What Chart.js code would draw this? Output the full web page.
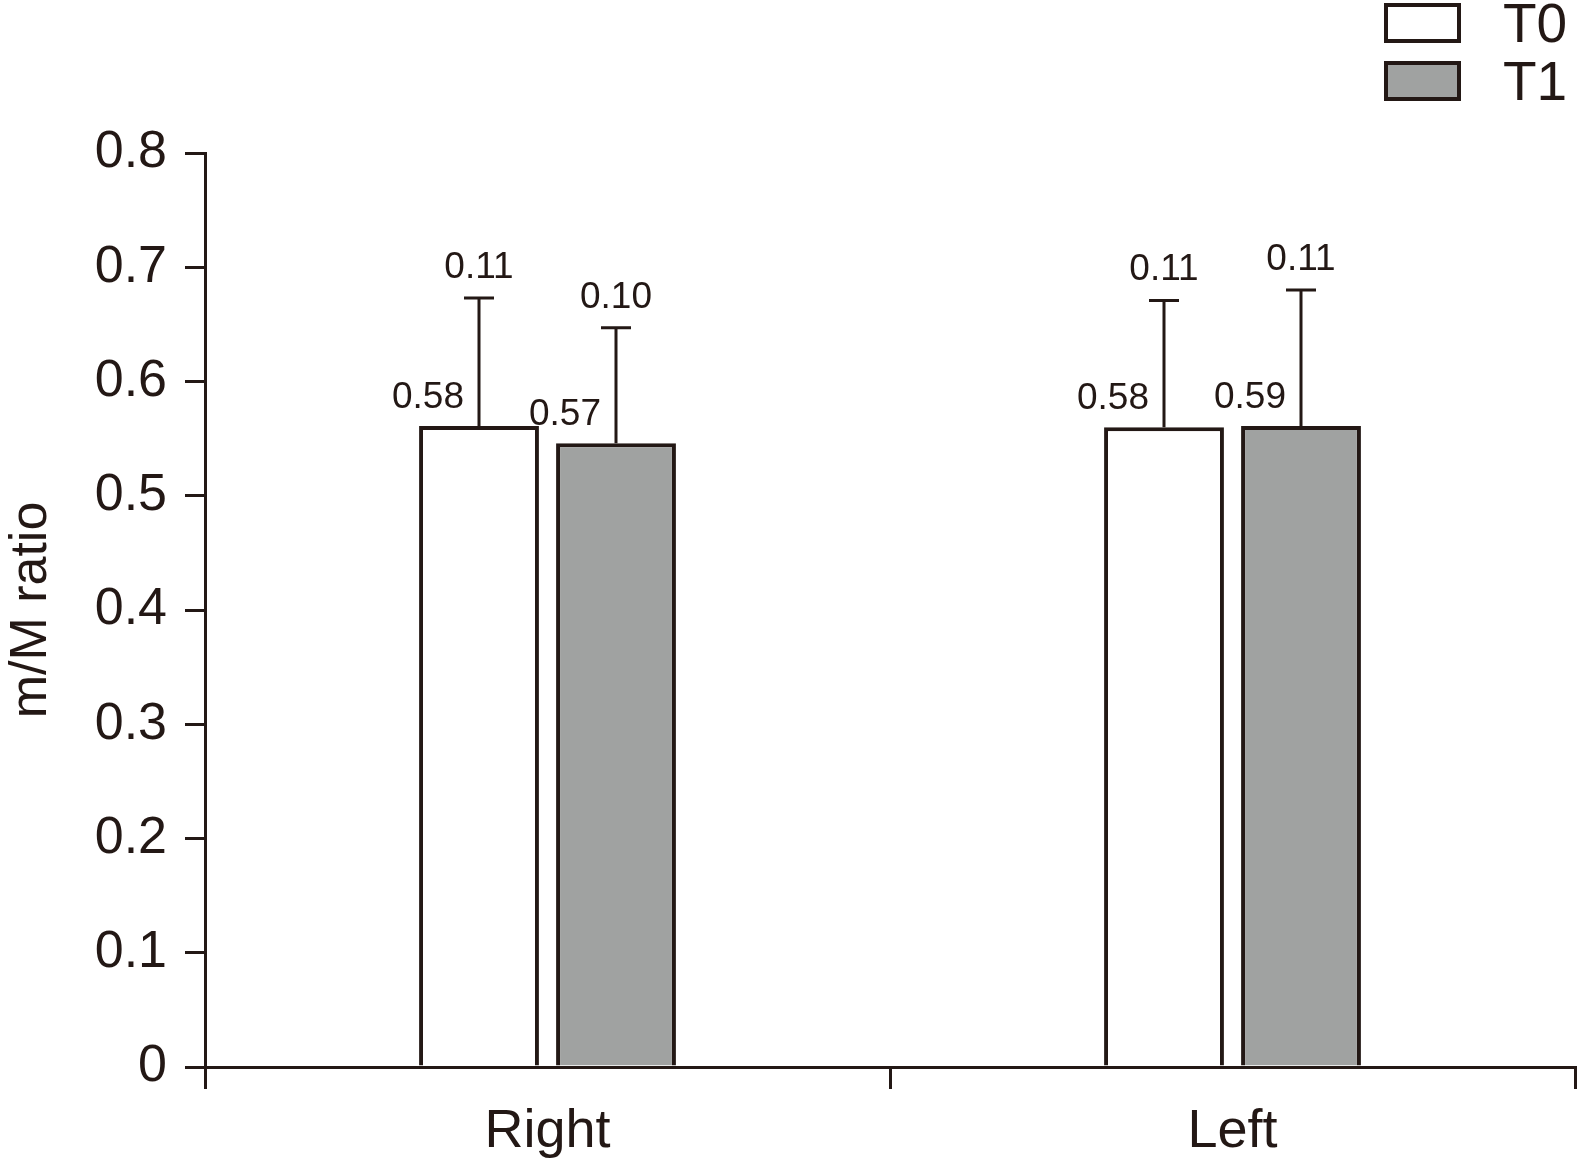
<!DOCTYPE html>
<html>
<head>
<meta charset="utf-8">
<script src="https://cdn.jsdelivr.net/npm/chart.js@4.4.0/dist/chart.umd.min.js"></script>
<style>
  html, body { margin: 0; padding: 0; background: #fff; }
  #wrap { position: relative; width: 1577px; height: 1160px; }
  #legend { position: absolute; left: 1384px; top: 3px; font-family: "Liberation Sans", Arial, sans-serif; color: #231815; }
  .item { display: flex; align-items: center; height: 40px; margin-bottom: 18px; }
  .box { width: 69px; height: 32px; border: 4px solid #231815; margin-right: 42px; }
  .txt { font-size: 55px; line-height: 40px; }
</style>
</head>
<body>
<div id="wrap">
  <canvas id="chart" width="1577" height="1160"></canvas>
  <div id="legend"></div>
</div>
<script>
// ========================
// Data
// ========================
const categories = ['Right', 'Left'];
const seriesNames = ['T0', 'T1'];

// bar heights as drawn
const meanT0 = [0.561, 0.560];
const meanT1 = [0.546, 0.561];
// upward error (SD) as drawn
const errT0 = [0.112, 0.111];
const errT1 = [0.101, 0.119];

// printed annotations
const meanLabelsT0 = ['0.58', '0.58'];
const meanLabelsT1 = ['0.57', '0.59'];
const sdLabelsT0 = ['0.11', '0.11'];
const sdLabelsT1 = ['0.10', '0.11'];

const yTickLabels = ['0', '0.1', '0.2', '0.3', '0.4', '0.5', '0.6', '0.7', '0.8'];

// ========================
// Style
// ========================
const INK = '#231815';
const FILLS = ['#ffffff', '#a0a2a1'];
const FONT = '"Liberation Sans", Arial, sans-serif';

// Legend (HTML)
const legendEl = document.getElementById('legend');
seriesNames.forEach((name, i) => {
  const item = document.createElement('div');
  item.className = 'item';
  item.innerHTML = `<div class="box" style="background:${FILLS[i]}"></div><div class="txt">${name}</div>`;
  legendEl.appendChild(item);
});

// Error bars + value labels
const annotate = {
  id: 'annotate',
  afterDatasetsDraw(chart) {
    const { ctx, scales: { y } } = chart;
    const errs = [errT0, errT1];
    const means = [meanT0, meanT1];
    const meanLabels = [meanLabelsT0, meanLabelsT1];
    const sdLabels = [sdLabelsT0, sdLabelsT1];
    ctx.save();
    ctx.strokeStyle = INK;
    ctx.fillStyle = INK;
    ctx.lineWidth = 3;
    ctx.font = `37px ${FONT}`;
    chart.data.datasets.forEach((ds, di) => {
      const meta = chart.getDatasetMeta(di);
      meta.data.forEach((bar, i) => {
        const yTop = y.getPixelForValue(means[di][i] + errs[di][i]);
        const yBar = y.getPixelForValue(means[di][i]);
        ctx.beginPath();
        ctx.moveTo(bar.x, yBar);
        ctx.lineTo(bar.x, yTop);
        ctx.moveTo(bar.x - 15, yTop);
        ctx.lineTo(bar.x + 15, yTop);
        ctx.stroke();

        ctx.textBaseline = 'alphabetic';
        ctx.textAlign = 'center';
        ctx.fillText(sdLabels[di][i], bar.x, yTop - 20);
        ctx.textAlign = 'right';
        ctx.fillText(meanLabels[di][i], bar.x - 15, yBar - 18);
      });
    });
    ctx.restore();
  }
};

new Chart(document.getElementById('chart'), {
  type: 'bar',
  data: {
    labels: categories,
    datasets: [
      { label: seriesNames[0], data: meanT0, backgroundColor: FILLS[0], borderColor: INK, borderWidth: 4, borderSkipped: 'start' },
      { label: seriesNames[1], data: meanT1, backgroundColor: FILLS[1], borderColor: INK, borderWidth: 4, borderSkipped: 'start' }
    ]
  },
  options: {
    responsive: false,
    animation: false,
    categoryPercentage: 0.4,
    barPercentage: 0.875,
    layout: { padding: { top: 153, right: 2, left: 0, bottom: 0 } },
    plugins: {
      legend: { display: false },
      tooltip: { enabled: false }
    },
    scales: {
      x: {
        offset: true,
        grid: { offset: true, drawOnChartArea: false, drawTicks: true, tickLength: 22, color: INK, lineWidth: 3 },
        border: { display: true, color: INK, width: 3 },
        ticks: { color: INK, font: { family: FONT, size: 54 }, padding: 11 },
        afterFit(scale) { scale.height = 93; }
      },
      y: {
        min: 0,
        max: 0.8,
        grid: { drawOnChartArea: false, drawTicks: true, tickLength: 20, color: INK, lineWidth: 3 },
        border: { display: true, color: INK, width: 3 },
        ticks: {
          stepSize: 0.1,
          color: INK,
          font: { family: FONT, size: 52 },
          padding: 18,
          callback: (v, i) => yTickLabels[i]
        },
        title: {
          display: true,
          text: 'm/M ratio',
          color: INK,
          font: { family: FONT, size: 52 },
          padding: { top: 0, bottom: 10 }
        },
        afterFit(scale) { scale.width = 205; }
      }
    }
  },
  plugins: [annotate]
});
</script>
</body>
</html>
